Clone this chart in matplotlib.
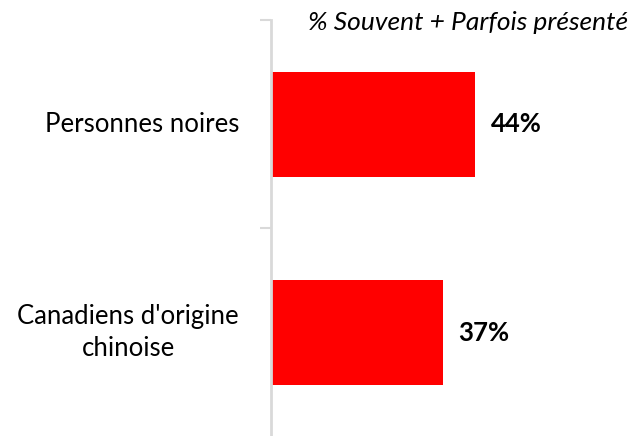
import matplotlib
matplotlib.use("Agg")
import matplotlib.pyplot as plt

categories = ["Personnes noires", "Canadiens d'origine\nchinoise"]
values = [44, 37]
value_labels = ["44%", "37%"]
title = "% Souvent + Parfois présenté"

plt.rcParams['font.family'] = ['Lato', 'DejaVu Sans']

fig = plt.figure(figsize=(6.34, 4.36), dpi=100)
ax = fig.add_axes([271 / 634, -1 / 436, 363 / 634, 417 / 436])

pos = list(range(len(categories)))
ax.barh(pos, values, height=0.505, color="#FF0000")
ax.set_xlim(0, 363 / 4.64)
ax.set_ylim(1.5, -0.5)

for i, (v, lab) in enumerate(zip(values, value_labels)):
    ax.text(v + 3.4, i, lab, va="center", ha="left", fontsize=18.5, fontweight="bold")

# category labels, right aligned block, lines centred
for i, cat in enumerate(categories):
    ax.text(-32 / 4.64, i, cat, ha="right", va="center", multialignment="center",
            fontsize=18.5, linespacing=1.36)

ax.set_yticks([])
ax.set_yticks([-0.5, 0.5], minor=True)
ax.tick_params(axis="y", which="minor", length=8, width=1.5, color="#d9d9d9")

ax.set_xticks([])
for s in ["top", "right", "bottom"]:
    ax.spines[s].set_visible(False)
ax.spines["left"].set_color("#d9d9d9")
ax.spines["left"].set_linewidth(2)

fig.text(628 / 634, 1 - 22 / 436, title, ha="right", va="center", fontsize=19, style="italic")

fig.savefig("out.png", dpi=100)
